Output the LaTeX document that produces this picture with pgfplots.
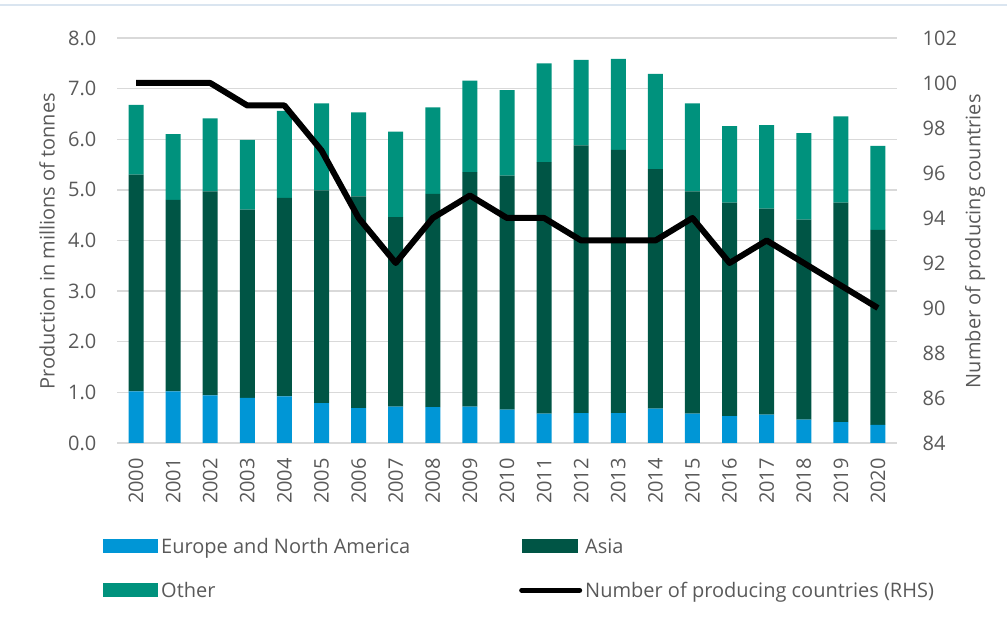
\documentclass[border=0pt]{standalone}
\usepackage{fontspec}
\setmainfont{Open Sans}
\usepackage{pgfplots}
\usepackage{pgfplotstable}
\pgfplotsset{compat=1.18}
\definecolor{eublue}{RGB}{0,150,214}
\definecolor{asiagreen}{RGB}{0,85,69}
\definecolor{othergreen}{RGB}{0,146,125}
\definecolor{textgray}{RGB}{89,89,89}
\definecolor{gridgray}{RGB}{217,217,217}
\definecolor{topline}{RGB}{218,229,240}

\pgfplotstableread{
idx blue asia other line
0  1.02 4.28 1.38 100
1  1.02 3.78 1.30 100
2  0.94 4.03 1.44 100
3  0.89 3.72 1.38 99
4  0.92 3.92 1.72 99
5  0.79 4.20 1.72 97
6  0.69 4.18 1.66 94
7  0.72 3.74 1.69 92
8  0.71 4.21 1.71 94
9  0.72 4.63 1.81 95
10 0.66 4.62 1.69 94
11 0.58 4.97 1.95 94
12 0.59 5.29 1.69 93
13 0.59 5.20 1.80 93
14 0.68 4.73 1.88 93
15 0.58 4.39 1.74 94
16 0.53 4.22 1.51 92
17 0.56 4.07 1.65 93
18 0.46 3.95 1.71 92
19 0.41 4.34 1.70 91
20 0.36 3.85 1.66 90
}\data

\begin{document}
\begin{tikzpicture}
\useasboundingbox (0,0) rectangle (1007pt,620pt);
\draw[topline, line width=2pt] (0,615pt) -- (1007pt,615pt);
\begin{axis}[
  at={(117.5pt,177pt)}, anchor=south west,
  scale only axis, width=779pt, height=405pt,
  xmin=-0.5, xmax=20.5, ymin=0, ymax=8,
  ybar stacked, bar width=15pt,
  axis line style={draw=none},
  major tick style={draw=none},
  ymajorgrids, grid style={gridgray, line width=1.3pt},
  ytick={0,1,...,8},
  xtick={0,1,...,20},
  xticklabels={2000,2001,2002,2003,2004,2005,2006,2007,2008,2009,2010,2011,2012,2013,2014,2015,2016,2017,2018,2019,2020},
  /pgf/number format/assume math mode=true,
  yticklabel style={/pgf/number format/.cd, fixed, fixed zerofill, precision=1, /tikz/.cd,
     font=\fontsize{20}{24}\selectfont, text=textgray, anchor=east, inner sep=0pt, xshift=-21pt},
  xticklabel style={font=\fontsize{20}{24}\selectfont, text=textgray, rotate=90, anchor=east, inner xsep=15pt, inner ysep=0pt},
  ylabel={Production in millions of tonnes},
  ylabel style={font=\fontsize{20}{24}\selectfont, text=textgray, at={(axis description cs:-0.0905,0.498)}, anchor=center, rotate=0},
  legend columns=2,
  legend cell align=left,
  legend style={draw=none, fill=none, at={(-0.0186,-0.227)}, anchor=north west,
     font=\fontsize{20}{24}\selectfont, text=textgray, inner sep=0pt,
     nodes={inner sep=3pt},
     /tikz/every even column/.append style={column sep=106pt},
     row sep=21pt},
]
\addplot[fill=eublue, draw=none, legend image code/.code={\fill[eublue] (0pt,-7pt) rectangle (55pt,7pt);}] table[x=idx, y=blue]{\data};
\addlegendentry{Europe and North America}
\addplot[fill=asiagreen, draw=none, legend image code/.code={\fill[asiagreen] (3pt,-7pt) rectangle (59pt,7pt);}] table[x=idx, y=asia]{\data};
\addlegendentry{Asia}
\addplot[fill=othergreen, draw=none, legend image code/.code={\fill[othergreen] (0pt,-7pt) rectangle (55pt,7pt);}] table[x=idx, y=other]{\data};
\addlegendentry{Other}
\addlegendimage{legend image code/.code={\draw[black, line width=5pt, line cap=round] (2.5pt,0pt) -- (60.5pt,0pt);}}
\addlegendentry{Number of producing countries (RHS)}
\end{axis}
\begin{axis}[
  at={(117.5pt,177pt)}, anchor=south west,
  scale only axis, width=779pt, height=405pt,
  xmin=-0.5, xmax=20.5, ymin=84, ymax=102,
  axis y line*=right, hide x axis,
  axis line style={draw=none},
  major tick style={draw=none},
  ytick={84,86,...,102},
  /pgf/number format/assume math mode=true,
  yticklabel style={font=\fontsize{20}{24}\selectfont, text=textgray, anchor=west, inner sep=0pt, xshift=26pt},
  ylabel={Number of producing countries},
  ylabel style={font=\fontsize{20}{24}\selectfont, text=textgray, at={(axis description cs:1.1008,0.498)}, anchor=center, rotate=0},
]
\addplot[black, line width=6pt, line join=round] table[x=idx, y=line]{\data};
\end{axis}
\end{tikzpicture}
\end{document}
